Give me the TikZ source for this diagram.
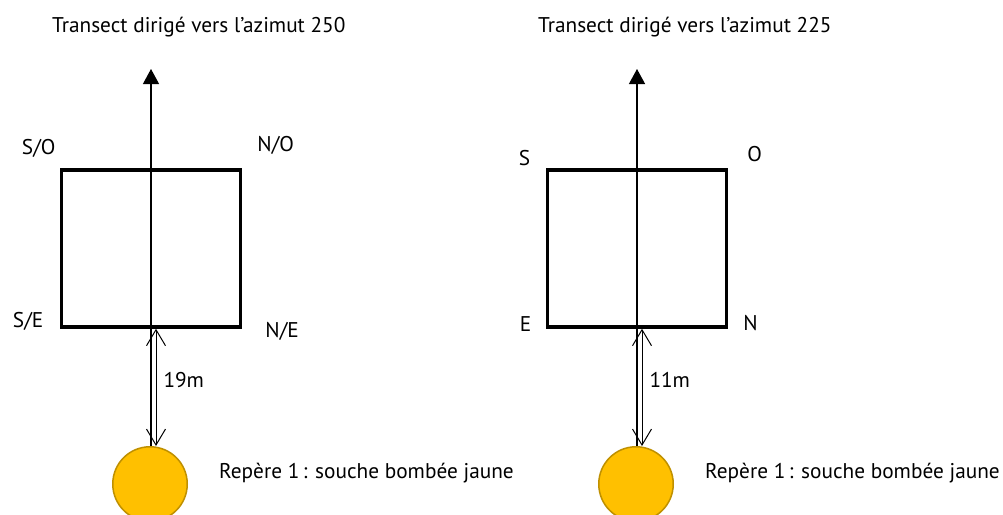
\documentclass[tikz,border=0pt]{standalone}
\usepackage{fontspec}
\setmainfont{PT Sans}
\usetikzlibrary{calc}
\usetikzlibrary{arrows.meta}
\usetikzlibrary{positioning}

\definecolor{souche}{HTML}{FFC000}
\definecolor{soucheBord}{HTML}{BF9000}

\tikzset{
    parcelle/.style = {draw, line width = 3.5pt, minimum width = 179pt, minimum height = 157pt, inner sep = 0pt},
    repere/.style = {circle, draw = soucheBord, fill = souche, line width = 1.5pt, minimum size = 74.5pt, inner sep = 0pt},
    texte/.style = {font = \fontsize{21.3}{25}\selectfont, inner sep = 0pt, anchor = base west},
    transect/.style = {line width = 1.2pt, -{Triangle[length = 15pt, width = 16pt]}},
    mesure/.style = {line width = 1pt, {Straight Barb[length = 16pt, width = 19pt]}-{Straight Barb[length = 16pt, width = 19pt]}}
}

\begin{document}
\begin{tikzpicture}[x = 1pt, y = -1pt]
    \useasboundingbox (0,0) rectangle (1003,514);

    \foreach \ox/\az/\dist/\i in {0/250/19m/1, 486/225/11m/2}{
        \node[parcelle] (carre\i) at (151+\ox, 248.5) {};
        \node[repere] (souche\i) at (150+\ox, 484) {};
        \coordinate (fleche\i) at (151+\ox, 69);
        \node[texte] (titre\i) at (52+\ox, 32) {Transect dirigé vers l’azimut \az};
        \node[texte] (nom\i) at (219+\ox, 478) {Repère 1\,: souche bombée jaune};

        \draw[transect] (fleche\i |- souche\i.north) -- (fleche\i);
        \draw[mesure] ($(fleche\i |- carre\i.south) + (5,0)$) -- ($(fleche\i |- souche\i.north) + (5,0)$)
            node[texte, midway, xshift = 7pt] (dist\i) {\dist};
    }

    % coins du premier carre
    \node[texte] (so) at ($(carre1.north west) + (-38,-13.5)$) {S/O};
    \node[texte] (no) at ($(carre1.north east) + (15,-16.5)$) {N/O};
    \node[texte] (se) at ($(carre1.south west) + (-47,-1.5)$) {S/E};
    \node[texte] (ne) at ($(carre1.south east) + (23,8.5)$) {N/E};

    % coins du second carre
    \node[texte] (s) at ($(carre2.north west) + (-27,-2.5)$) {S};
    \node[texte] (o) at ($(carre2.north east) + (19,-6.5)$) {O};
    \node[texte] (e) at ($(carre2.south west) + (-26,2.5)$) {E};
    \node[texte] (n) at ($(carre2.south east) + (15,1.5)$) {N};
\end{tikzpicture}
\end{document}
